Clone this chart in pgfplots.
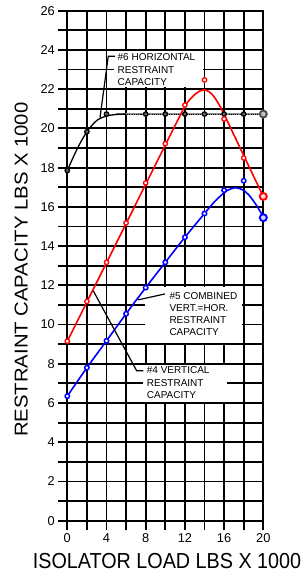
\documentclass[border=0pt]{standalone}
\usepackage{fontspec}
\setmainfont{Liberation Sans}
\usepackage{graphicx}
\usepackage{pgfplots}
\pgfplotsset{compat=1.18}
\newcommand\annfont{\fontsize{10}{12}\selectfont}
\begin{document}
\begin{tikzpicture}
\begin{axis}[
  name=ax,
  width=196pt, height=510pt, scale only axis,
  xmin=0, xmax=20, ymin=0, ymax=26,
  xtick={0,2,...,20},
  xticklabels={0,,4,,8,,12,,16,,20},
  ytick={0,1,...,26},
  yticklabels={0,,2,,4,,6,,8,,10,,12,,14,,16,,18,,20,,22,,24,,26},
  grid=major,
  major grid style={black, line width=1.8pt},
  axis line style={black, line width=1.8pt},
  tick style={black, line width=1.8pt},
  tick align=outside,
  major tick length=9pt,
  tick pos=left,
  clip=false,
  /pgf/number format/assume math mode=true,
  ticklabel style={font=\fontsize{12.8}{14}\selectfont},
  xlabel={\scalebox{1}[1.1]{ISOLATOR LOAD LBS X 1000}},
  ylabel={\scalebox{1.09}[1]{RESTRAINT CAPACITY LBS X 1000}},
  xlabel style={font=\fontsize{19.75}{22}\selectfont, at={(axis description cs:0.5087,-0.0937)}, anchor=base, inner sep=0pt},
  ylabel style={font=\fontsize{18.6}{21}\selectfont, at={(axis description cs:-0.2005,0.4922)}, anchor=south, inner sep=0pt},
]
% annotation boxes
\fill[white] (axis cs:4.75,22.12) rectangle (axis cs:13.8,23.92);
\fill[white] (axis cs:7.9,9.07) rectangle (axis cs:17.85,11.92);
\fill[white] (axis cs:7.76,6.06) rectangle (axis cs:16.3,7.94);

% #6 horizontal
\addplot[black!45, line width=2.8pt] coordinates {(5,20.73) (20,20.73)};
\addplot[black, line width=1.1pt, dash pattern=on 1pt off 1.2pt] coordinates {(5,20.73) (20,20.73)};
\addplot[black, line width=1.3pt, smooth] coordinates {(0,17.85) (1,18.95) (2,19.83) (3,20.4) (4,20.63) (5,20.71) (6,20.73)};
\addplot[only marks, mark=*, mark size=2.2pt, mark options={draw=black, fill=black!60, line width=1.3pt}] coordinates {(0,17.85) (2,19.83) (4,20.73) (8,20.73) (10,20.73) (12,20.73) (14,20.73) (16,20.73) (18,20.73)};
\addplot[only marks, mark=*, mark size=3.5pt, mark options={draw=black!70, fill=black!25, line width=1.9pt}] coordinates {(20,20.73)};

% #5 combined (red)
\addplot[red, line width=1.6pt, smooth] coordinates {(0,9.15) (2,11.15) (4,13.15) (6,15.15) (8,17.15) (10,19.15) (11,20.15) (12,21.12) (12.5,21.47) (13,21.72) (13.5,21.9) (14,21.96) (14.5,21.86) (15,21.6) (15.5,21.2) (16,20.72) (17,19.67) (18,18.62) (19,17.57) (20,16.53)};
\addplot[only marks, mark=*, mark size=2.2pt, mark options={draw=red, fill=white, line width=1.3pt}] coordinates {(0,9.15) (2,11.18) (4,13.17) (6,15.18) (8,17.22) (10,19.22) (12,21.19) (14,22.47) (16,20.48) (18,18.49)};
\addplot[only marks, mark=*, mark size=3.5pt, mark options={draw=red, fill=red!15, line width=1.9pt}] coordinates {(20,16.53)};

% #4 vertical (blue)
\addplot[blue, line width=1.6pt, smooth] coordinates {(0,6.35) (2,7.8) (4,9.17) (6,10.55) (8,11.88) (10,13.17) (12,14.45) (14,15.66) (15,16.25) (16,16.72) (16.5,16.88) (17.1,16.97) (17.6,16.93) (18,16.84) (18.5,16.62) (19,16.3) (19.5,15.92) (20,15.5)};
\addplot[only marks, mark=*, mark size=2.2pt, mark options={draw=blue, fill=white, line width=1.5pt}] coordinates {(0,6.35) (2,7.8) (4,9.17) (6,10.55) (8,11.88) (10,13.17) (12,14.45) (14,15.66) (16,16.85) (18,17.33)};
\addplot[only marks, mark=*, mark size=3.5pt, mark options={draw=blue, fill=blue!15, line width=1.9pt}] coordinates {(20,15.45)};

% leader lines
\draw[black, line width=1.2pt] (axis cs:4.87,23.68) -- (axis cs:4.18,23.68) -- (axis cs:3.34,20.55);
\draw[black, line width=1.2pt] (axis cs:9.97,11.56) -- (axis cs:7.24,11.26);
\draw[black, line width=1.2pt] (axis cs:7.76,7.64) -- (axis cs:7.08,7.64) -- (axis cs:2.65,11.72);

% texts
\node[anchor=base west, inner sep=0pt, font=\annfont] at (axis cs:5.12,23.45) {\#6 HORIZONTAL};
\node[anchor=base west, inner sep=0pt, font=\annfont] at (axis cs:5.12,22.82) {RESTRAINT};
\node[anchor=base west, inner sep=0pt, font=\annfont] at (axis cs:5.12,22.20) {CAPACITY};

\node[anchor=base west, inner sep=0pt, font=\annfont] at (axis cs:10.41,11.30) {\#5 COMBINED};
\node[anchor=base west, inner sep=0pt, font=\annfont] at (axis cs:10.41,10.65) {VERT.=HOR.};
\node[anchor=base west, inner sep=0pt, font=\annfont] at (axis cs:10.41,10.04) {RESTRAINT};
\node[anchor=base west, inner sep=0pt, font=\annfont] at (axis cs:10.41,9.42) {CAPACITY};

\node[anchor=base west, inner sep=0pt, font=\annfont] at (axis cs:8.10,7.48) {\#4 VERTICAL};
\node[anchor=base west, inner sep=0pt, font=\annfont] at (axis cs:8.10,6.84) {RESTRAINT};
\node[anchor=base west, inner sep=0pt, font=\annfont] at (axis cs:8.10,6.21) {CAPACITY};
\end{axis}
\pgfresetboundingbox
\useasboundingbox ([shift={(-67.3pt,-52.3pt)}]ax.south west) rectangle ([shift={(236.7pt,520.7pt)}]ax.south west);
\end{tikzpicture}
\end{document}
